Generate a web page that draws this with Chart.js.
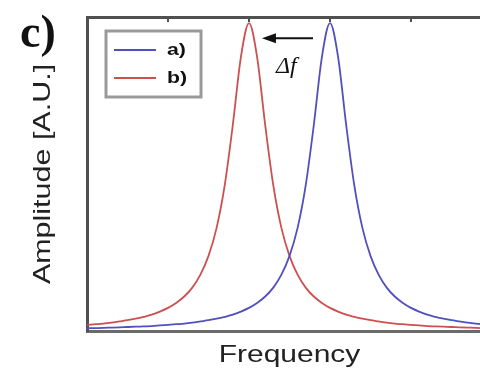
<!DOCTYPE html>
<html>
<head>
<meta charset="utf-8">
<script src="https://cdn.jsdelivr.net/npm/chart.js@4"></script>
<style>
  html, body { margin: 0; padding: 0; background: #fff; overflow: hidden; }
  #wrap { width: 480px; height: 371px; overflow: hidden; }
</style>
</head>
<body>
<div id="wrap"><canvas id="chartCanvas" width="500" height="371"></canvas></div>
<script>
// Frecuencia (unidades arbitrarias) y amplitudes
const frequency = [
  0.0, 0.1, 0.2, 0.3, 0.4, 0.5, 0.6, 0.7, 0.8, 0.9,
  1.0, 1.1, 1.2, 1.3, 1.4, 1.5, 1.6, 1.7, 1.8, 1.9,
  2.0, 2.1, 2.2, 2.3, 2.4, 2.5, 2.6, 2.7, 2.8, 2.9,
  3.0, 3.1, 3.2, 3.3, 3.4, 3.5, 3.6, 3.7, 3.8, 3.9,
  4.0, 4.1, 4.2, 4.3, 4.4, 4.5, 4.6, 4.7, 4.8, 4.9, 5.0
];
const amplitudeA = [
  0.009, 0.0095, 0.010, 0.011, 0.012, 0.013, 0.014, 0.015, 0.016, 0.018,
  0.020, 0.022, 0.024, 0.027, 0.031, 0.035, 0.040, 0.046, 0.053, 0.063,
  0.075, 0.091, 0.112, 0.141, 0.183, 0.244, 0.335, 0.473, 0.669, 0.890,
  1.000, 0.890, 0.669, 0.473, 0.335, 0.244, 0.183, 0.141, 0.112, 0.091,
  0.075, 0.063, 0.053, 0.046, 0.040, 0.035, 0.031, 0.027, 0.024, 0.022, 0.020
];
const amplitudeB = [
  0.020, 0.022, 0.024, 0.027, 0.031, 0.035, 0.040, 0.046, 0.053, 0.063,
  0.075, 0.091, 0.112, 0.141, 0.183, 0.244, 0.335, 0.473, 0.669, 0.890,
  1.000, 0.890, 0.669, 0.473, 0.335, 0.244, 0.183, 0.141, 0.112, 0.091,
  0.075, 0.063, 0.053, 0.046, 0.040, 0.035, 0.031, 0.027, 0.024, 0.022,
  0.020, 0.018, 0.016, 0.015, 0.014, 0.013, 0.012, 0.011, 0.010, 0.0095, 0.009
];
const seriesLabels = ["a)", "b)"];
const topTicks = [1, 2, 3, 4];
// Flecha del desplazamiento (de la curva a hacia la b)
const shiftFrom = [2.79, 0.951];
const shiftTo = [2.16, 0.951];

const blue = "rgb(80, 80, 190)";
const red = "rgb(205, 80, 80)";
const frame = "#505050";

function toPoints(xs, ys) {
  return xs.map((x, i) => ({ x: x, y: ys[i] }));
}

// Textos, marcas superiores, leyenda y flecha
const decorPlugin = {
  id: "decor",
  afterDatasetsDraw(chart) {
    const ctx = chart.ctx;
    const xs = chart.scales.x;
    const ys = chart.scales.y;
    const area = chart.chartArea;
    ctx.save();

    // marcas hacia dentro en el borde superior
    ctx.strokeStyle = frame;
    ctx.lineWidth = 2;
    topTicks.forEach(t => {
      const px = Math.round(xs.getPixelForValue(t));
      ctx.beginPath();
      ctx.moveTo(px, area.top);
      ctx.lineTo(px, area.top + 5);
      ctx.stroke();
    });

    // leyenda
    ctx.strokeStyle = "#9a9a9a";
    ctx.lineWidth = 3;
    ctx.strokeRect(106, 31, 95, 66);
    chart.data.datasets.forEach((ds, i) => {
      const y = 50 + i * 28;
      ctx.strokeStyle = ds.borderColor;
      ctx.lineWidth = 2;
      ctx.beginPath();
      ctx.moveTo(114, y);
      ctx.lineTo(156, y);
      ctx.stroke();
      ctx.save();
      ctx.fillStyle = "#111";
      ctx.font = "bold 17px 'Liberation Sans', Arial, sans-serif";
      ctx.textBaseline = "middle";
      ctx.translate(167, y);
      ctx.scale(1.25, 1);
      ctx.fillText(ds.label, 0, 0);
      ctx.restore();
    });

    // flecha de desplazamiento
    const x0 = xs.getPixelForValue(shiftFrom[0]);
    const y0 = ys.getPixelForValue(shiftFrom[1]);
    const x1 = xs.getPixelForValue(shiftTo[0]);
    const y1 = ys.getPixelForValue(shiftTo[1]);
    ctx.strokeStyle = "#111";
    ctx.fillStyle = "#111";
    ctx.lineWidth = 2;
    ctx.beginPath();
    ctx.moveTo(x0, y0);
    ctx.lineTo(x1 + 8, y1);
    ctx.stroke();
    ctx.beginPath();
    ctx.moveTo(x1, y1);
    ctx.lineTo(x1 + 14, y1 - 5);
    ctx.lineTo(x1 + 14, y1 + 5);
    ctx.closePath();
    ctx.fill();
    ctx.font = "italic 24px 'Liberation Serif', 'Times New Roman', serif";
    ctx.textBaseline = "alphabetic";
    ctx.fillText("\u0394f", 276, 73);

    // titulos de ejes
    ctx.fillStyle = "#222";
    ctx.font = "24px 'Liberation Sans', Arial, sans-serif";
    ctx.textAlign = "center";
    ctx.save();
    ctx.translate((area.left + area.right) / 2, 362);
    ctx.scale(1.25, 1);
    ctx.fillText("Frequency", 0, 0);
    ctx.restore();
    ctx.save();
    ctx.translate(50, (area.top + area.bottom) / 2);
    ctx.rotate(-Math.PI / 2);
    ctx.scale(1.27, 1);
    ctx.fillText("Amplitude [A.U.]", 0, 0);
    ctx.restore();

    // etiqueta del panel
    ctx.textAlign = "left";
    ctx.fillStyle = "#111";
    ctx.font = "bold 46px 'Liberation Serif', 'Times New Roman', serif";
    ctx.fillText("c)", 20, 47);

    ctx.restore();
  }
};

const ctx = document.getElementById("chartCanvas").getContext("2d");
const chart = new Chart(ctx, {
  type: "line",
  data: {
    datasets: [
      {
        label: seriesLabels[0],
        data: toPoints(frequency, amplitudeA),
        borderColor: blue,
        borderWidth: 1.8,
        pointRadius: 0,
        cubicInterpolationMode: "monotone",
        fill: false
      },
      {
        label: seriesLabels[1],
        data: toPoints(frequency, amplitudeB),
        borderColor: red,
        borderWidth: 1.8,
        pointRadius: 0,
        cubicInterpolationMode: "monotone",
        fill: false
      }
    ]
  },
  options: {
    responsive: false,
    animation: false,
    devicePixelRatio: 1,
    layout: { padding: { left: 87, top: 17, right: 8, bottom: 40 } },
    plugins: {
      legend: { display: false },
      tooltip: { enabled: false }
    },
    scales: {
      x: {
        type: "linear",
        min: 0,
        max: 5,
        ticks: { display: false },
        grid: { display: false, drawTicks: false },
        border: { display: true, color: "#6a6a6a", width: 3 }
      },
      xTop: {
        type: "linear",
        position: "top",
        min: 0,
        max: 5,
        ticks: { display: false },
        grid: { display: false, drawTicks: false },
        border: { display: true, color: frame, width: 3 }
      },
      y: {
        min: 0,
        max: 1.02,
        ticks: { display: false },
        grid: { display: false, drawTicks: false },
        border: { display: true, color: frame, width: 3 }
      }
    }
  },
  plugins: [decorPlugin]
});
</script>
</body>
</html>
